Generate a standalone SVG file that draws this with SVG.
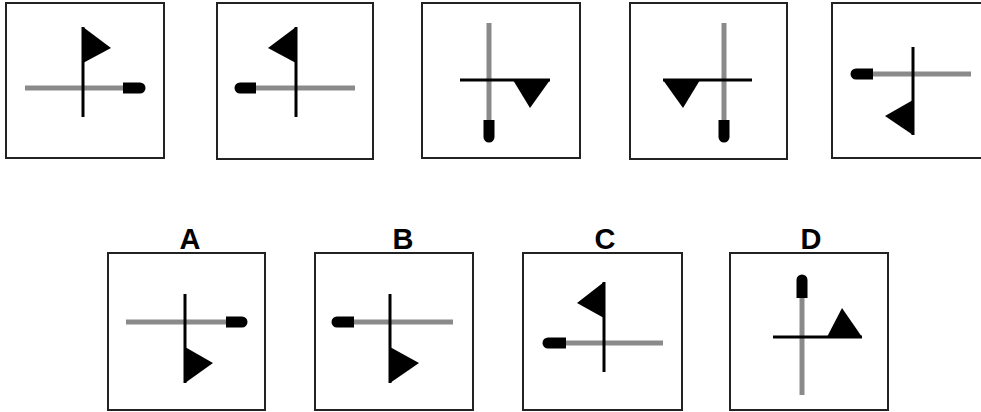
<svg xmlns="http://www.w3.org/2000/svg" width="981" height="412" viewBox="0 0 981 412">
<style>
.box{fill:#fff;stroke:#222;stroke-width:2}
.g{stroke:#8a8a8a;stroke-width:5;fill:none}
.k{stroke:#000;stroke-width:3;fill:none}
.f{fill:#000}
.lbl{font-family:"Liberation Sans",Arial,sans-serif;font-weight:bold;font-size:29px;fill:#000;text-anchor:middle}
</style>
<rect width="981" height="412" fill="#fff"/>
<g id="box1">
<rect class="box" x="6" y="3" width="158" height="155"/>
<line class="g" x1="25" y1="88" x2="124" y2="88"/>
<path class="f" d="M123,82.5 H140 A5.5,5.5 0 0 1 140,93.5 H123 Z"/>
<line class="k" x1="83" y1="27" x2="83" y2="117"/>
<polygon class="f" points="83,27 111,48 83,63"/>
</g>
<g id="box2">
<rect class="box" x="217" y="3" width="156" height="156"/>
<line class="g" x1="254" y1="88" x2="355" y2="88"/>
<path class="f" d="M256,82.5 H240 A5.5,5.5 0 0 0 240,93.5 H256 Z"/>
<line class="k" x1="296" y1="27" x2="296" y2="117"/>
<polygon class="f" points="296,27 268,48 296,63"/>
</g>
<g id="box3">
<rect class="box" x="422" y="3" width="158" height="155"/>
<line class="g" x1="489" y1="23" x2="489" y2="121"/>
<path class="f" d="M483.5,120 V137 A5.5,5.5 0 0 0 494.5,137 V120 Z"/>
<line class="k" x1="460" y1="80" x2="550" y2="80"/>
<polygon class="f" points="513,80 550,80 530,108"/>
</g>
<g id="box4">
<rect class="box" x="630" y="3" width="157" height="156"/>
<line class="g" x1="724" y1="23" x2="724" y2="121"/>
<path class="f" d="M718.5,120 V137 A5.5,5.5 0 0 0 729.5,137 V120 Z"/>
<line class="k" x1="663" y1="80" x2="752" y2="80"/>
<polygon class="f" points="663,80 700,80 683,108"/>
</g>
<g id="box5">
<rect class="box" x="832" y="3" width="158" height="155"/>
<line class="g" x1="871" y1="74" x2="971" y2="74"/>
<path class="f" d="M873,68.5 H856 A5.5,5.5 0 0 0 856,79.5 H873 Z"/>
<line class="k" x1="913" y1="47" x2="913" y2="135"/>
<polygon class="f" points="913,100 885,116 913,135"/>
</g>
<g id="optA">
<text class="lbl" x="190" y="249">A</text>
<rect class="box" x="108" y="253" width="157" height="157"/>
<line class="g" x1="126" y1="322" x2="227" y2="322"/>
<path class="f" d="M226,316.5 H242 A5.5,5.5 0 0 1 242,327.5 H226 Z"/>
<line class="k" x1="185" y1="294" x2="185" y2="383"/>
<polygon class="f" points="185,347 213,363 185,383"/>
</g>
<g id="optB">
<text class="lbl" x="403" y="249">B</text>
<rect class="box" x="315" y="253" width="158" height="157"/>
<line class="g" x1="352" y1="322" x2="453" y2="322"/>
<path class="f" d="M354,316.5 H337 A5.5,5.5 0 0 0 337,327.5 H354 Z"/>
<line class="k" x1="390" y1="294" x2="390" y2="383"/>
<polygon class="f" points="390,347 419,363 390,383"/>
</g>
<g id="optC">
<text class="lbl" x="605" y="249">C</text>
<rect class="box" x="523" y="253" width="159" height="157"/>
<line class="g" x1="564" y1="343" x2="663" y2="343"/>
<path class="f" d="M566,337.5 H548 A5.5,5.5 0 0 0 548,348.5 H566 Z"/>
<line class="k" x1="604" y1="282" x2="604" y2="372"/>
<polygon class="f" points="604,282 577,303 604,318"/>
</g>
<g id="optD">
<text class="lbl" x="811" y="249">D</text>
<rect class="box" x="730" y="253" width="158" height="157"/>
<line class="g" x1="802" y1="296" x2="802" y2="395"/>
<path class="f" d="M796.5,298 V280 A5.5,5.5 0 0 1 807.5,280 V298 Z"/>
<line class="k" x1="773" y1="337" x2="862" y2="337"/>
<polygon class="f" points="827,337 862,337 842,308"/>
</g>
</svg>
